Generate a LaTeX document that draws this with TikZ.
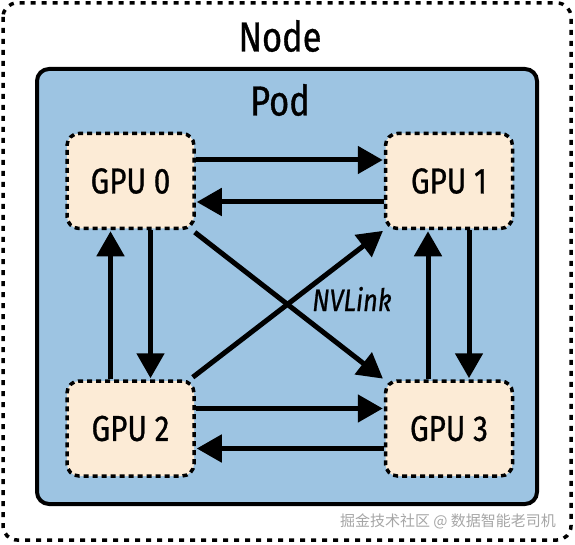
\documentclass[tikz,border=0pt]{standalone}
\usepackage{fontspec}
\setmainfont{Fira Sans}[FakeStretch=0.82, FakeBold=0.8]
\newfontfamily\cjk{Noto Sans CJK SC}
\usetikzlibrary{positioning,arrows.meta}
\definecolor{podblue}{RGB}{157,196,226}
\definecolor{gpupeach}{RGB}{252,235,214}
\tikzset{
  nodebox/.style={draw=black, line width=3.5pt, dash pattern=on 5pt off 6pt, rounded corners=14pt},
  podbox/.style={draw=black, fill=podblue, line width=4pt, rounded corners=12pt},
  gpubox/.style={draw=black, fill=gpupeach, line width=3.5pt, dash pattern=on 5pt off 4pt,
    rounded corners=12pt, minimum width=127pt, minimum height=95pt, font=\fontsize{36}{36}\selectfont},
  link/.style={line width=5pt, -{Triangle[length=25pt, width=27pt]}, shorten >=1pt},
  boxtitle/.style={font=\fontsize{42}{42}\selectfont}
}
\begin{document}
\begin{tikzpicture}[x=1pt, y=-1pt]
\useasboundingbox (0,0) rectangle (575,545);
\draw[nodebox] (3,3) rectangle (571,540);
\draw[podbox] (37,69) rectangle (537,504);
\node[boxtitle] (nodetitle) at (280,36) {Node};
\node[boxtitle] (podtitle) at (280,100) {Pod};
% GPUs
\node[gpubox] (gpu0) at (130.5,181) {GPU 0};
\node[gpubox, right=188pt of gpu0] (gpu1) {GPU 1};
\node[gpubox, below=149pt of gpu0] (gpu2) {GPU 2};
\node[gpubox, right=188pt of gpu2] (gpu3) {GPU 3};
% links
\draw[link] ([yshift=21pt]gpu0.east) -- ([yshift=21pt]gpu1.west);
\draw[link] ([yshift=-21pt]gpu1.west) -- ([yshift=-21pt]gpu0.east);
\draw[link] ([yshift=20pt]gpu2.east) -- ([yshift=20pt]gpu3.west);
\draw[link] ([yshift=-20pt]gpu3.west) -- ([yshift=-20pt]gpu2.east);
\draw[link] ([xshift=-20pt]gpu2.north) -- ([xshift=-20pt]gpu0.south);
\draw[link] ([xshift=20pt]gpu0.south) -- ([xshift=20pt]gpu2.north);
\draw[link] ([xshift=-21pt]gpu3.north) -- ([xshift=-21pt]gpu1.south);
\draw[link] ([xshift=20pt]gpu1.south) -- ([xshift=20pt]gpu3.north);
\draw[link] ([shift={(-1pt,-2pt)}]gpu0.south east) -- (gpu3.north west);
\draw[link] ([shift={(-3pt,2pt)}]gpu2.north east) -- (gpu1.south west);
\node[font=\itshape\fontsize{31}{31}\selectfont] (nvlink) at (352,299) {NVLink};
% watermark
\node[text=black!35, font=\cjk\fontsize{15}{15}\selectfont] (mark) at (448,521) {掘金技术社区 @ 数据智能老司机};
\end{tikzpicture}
\end{document}
